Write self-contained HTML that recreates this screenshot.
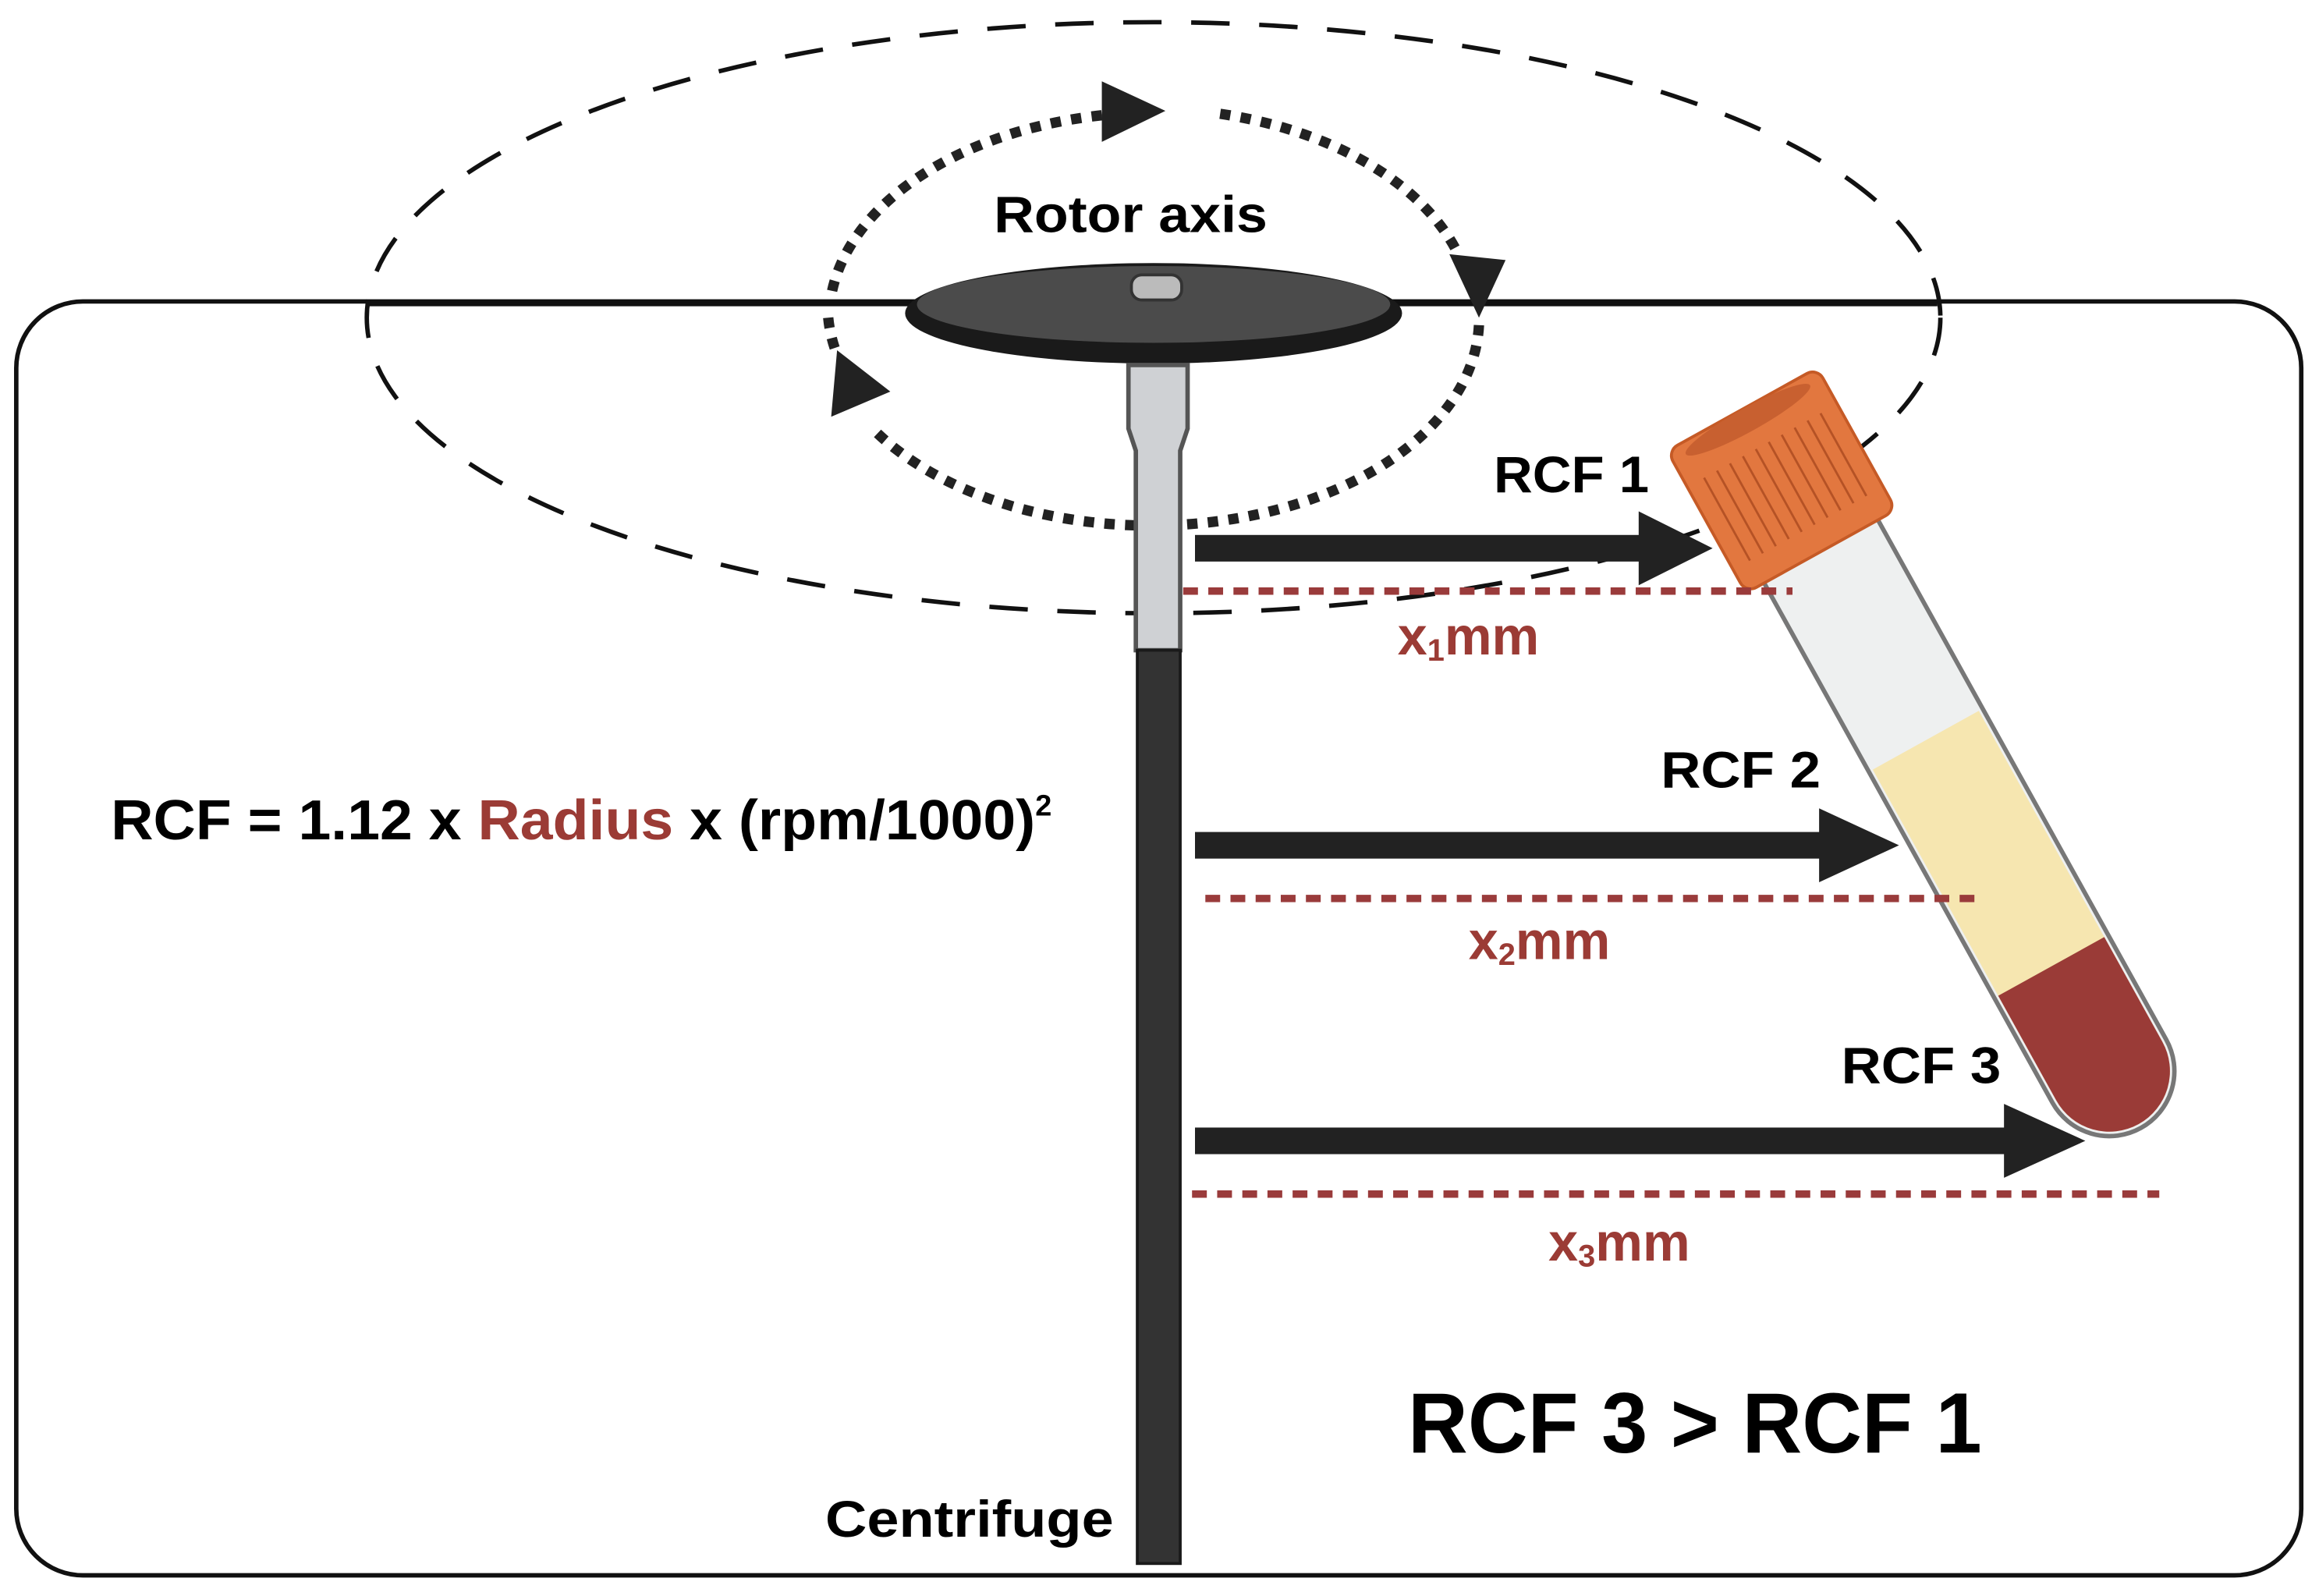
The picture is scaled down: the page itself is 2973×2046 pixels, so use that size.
<!DOCTYPE html>
<html><head><meta charset="utf-8"><style>
html,body{margin:0;padding:0;background:#fff;}
svg{display:block;}
text{font-family:"Liberation Sans",sans-serif;font-weight:bold;}
</style></head><body>
<svg width="2973" height="2046" viewBox="0 0 1568 1080" preserveAspectRatio="none" xmlns="http://www.w3.org/2000/svg">
<rect x="11" y="204" width="1545" height="862" rx="45" ry="45" fill="#fff" stroke="#111" stroke-width="3"/>
<line x1="248" y1="206" x2="1310" y2="206" stroke="#111" stroke-width="2.5"/>
<ellipse cx="780" cy="215" rx="532" ry="200" fill="none" stroke="#111" stroke-width="3" stroke-dasharray="26 20"/>
<g fill="none" stroke="#222" stroke-width="7" stroke-dasharray="7 7">
<path d="M745 78 A222 140 0 0 0 562 200"/>
<path d="M825 77 A222 140 0 0 1 985 170"/>
<path d="M1000 220 A222 140 0 0 1 590 290"/>
<path d="M560 215 A222 140 0 0 0 566 240"/>
</g>
<polygon points="745,55 788,75 745,96" fill="#222"/>
<polygon points="980,172 1018,176 1000,215" fill="#222"/>
<polygon points="566,237 602,265 562,282" fill="#222"/>
<ellipse cx="780" cy="212" rx="168" ry="34" fill="#1a1a1a"/>
<ellipse cx="780" cy="206" rx="160" ry="26" fill="#4b4b4b"/>
<rect x="765" y="186" width="34" height="17" rx="7" fill="#bbb" stroke="#333" stroke-width="2"/>
<path d="M763 247 H803 V290 L798 305 V440 H768 V305 L763 290 Z" fill="#cfd1d4" stroke="#555" stroke-width="3"/>
<rect x="769" y="440" width="29" height="618" fill="#333" stroke="#1a1a1a" stroke-width="2"/>
<g fill="#222">
<rect x="808" y="362" width="305" height="18"/><polygon points="1108,346 1158,371 1108,396"/>
<rect x="808" y="563" width="428" height="18"/><polygon points="1230,547 1284,572 1230,597"/>
<rect x="808" y="763" width="552" height="18"/><polygon points="1355,747 1410,772 1355,797"/>
</g>
<g transform="translate(1178,277) rotate(-29)">
<path d="M-44 100 V512 A44 44 0 0 0 44 512 V100 Z" fill="#eef0f0" stroke="#777" stroke-width="3"/>
<path d="M-41 256 V512 A41 41 0 0 0 41 512 V256 Z" fill="#f6e6b0"/>
<path d="M-41 431 V512 A41 41 0 0 0 41 512 V431 Z" fill="#9a3b37"/>
<rect x="-58" y="0" width="116" height="110" rx="8" fill="#e2773f" stroke="#c55a26" stroke-width="2"/>
<ellipse cx="0" cy="8" rx="48" ry="8" fill="#c86030"/>
<g stroke="#b55225" stroke-width="1.5">
<line x1="-45" y1="28" x2="-45" y2="92"/><line x1="-35" y1="28" x2="-35" y2="92"/><line x1="-25" y1="28" x2="-25" y2="92"/><line x1="-15" y1="28" x2="-15" y2="92"/><line x1="-5" y1="28" x2="-5" y2="92"/><line x1="5" y1="28" x2="5" y2="92"/><line x1="15" y1="28" x2="15" y2="92"/><line x1="25" y1="28" x2="25" y2="92"/><line x1="35" y1="28" x2="35" y2="92"/><line x1="45" y1="28" x2="45" y2="92"/>
</g>
</g>
<g stroke="#9a3b3b" stroke-width="5" stroke-dasharray="10 7">
<line x1="800" y1="400" x2="1212" y2="400"/>
<line x1="815" y1="608" x2="1335" y2="608"/>
<line x1="806" y1="808" x2="1460" y2="808"/>
</g>
<text x="672" y="157" font-size="35" textLength="185" lengthAdjust="spacingAndGlyphs">Rotor axis</text>
<text x="1010" y="333" font-size="35" textLength="105" lengthAdjust="spacingAndGlyphs">RCF 1</text>
<text x="1123" y="533" font-size="35" textLength="108" lengthAdjust="spacingAndGlyphs">RCF 2</text>
<text x="1245" y="733" font-size="35" textLength="108" lengthAdjust="spacingAndGlyphs">RCF 3</text>
<text x="945" y="443" font-size="36" fill="#9b3b35">x<tspan font-size="21" dy="4">1</tspan><tspan dy="-4">mm</tspan></text>
<text x="993" y="649" font-size="36" fill="#9b3b35">x<tspan font-size="21" dy="4">2</tspan><tspan dy="-4">mm</tspan></text>
<text x="1047" y="853" font-size="36" fill="#9b3b35">x<tspan font-size="21" dy="4">3</tspan><tspan dy="-4">mm</tspan></text>
<text x="75" y="568" font-size="38" textLength="625" lengthAdjust="spacingAndGlyphs">RCF = 1.12 x <tspan fill="#9b3b35">Radius</tspan> x (rpm/1000)</text>
<text x="700" y="552" font-size="20">2</text>
<text x="952" y="983" font-size="58" textLength="388" lengthAdjust="spacingAndGlyphs">RCF 3 &gt; RCF 1</text>
<text x="558" y="1040" font-size="35" textLength="195" lengthAdjust="spacingAndGlyphs">Centrifuge</text>
</svg>
</body></html>
